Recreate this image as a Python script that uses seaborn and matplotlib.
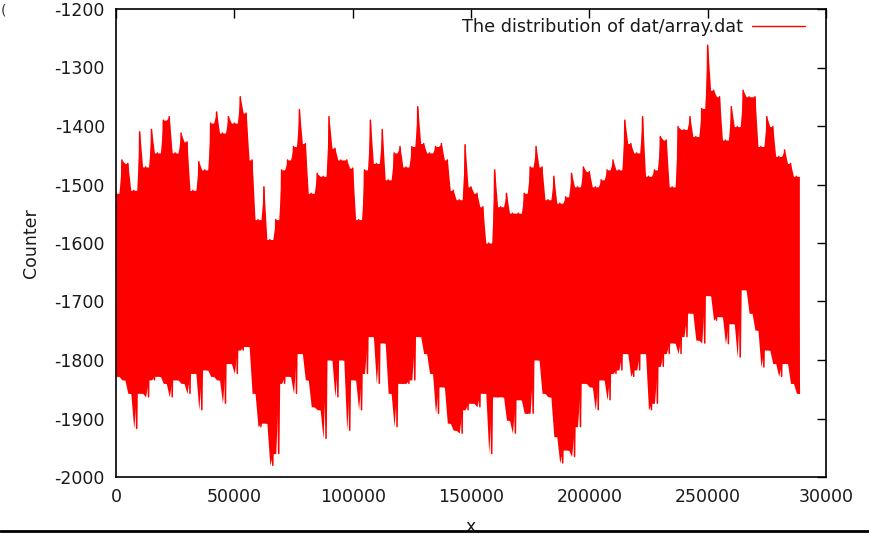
import numpy as np
import pandas as pd
import matplotlib.pyplot as plt
import seaborn as sns
from matplotlib.lines import Line2D

# upper / lower edge of the trace, every 2500 samples
hi = [-1515, -1458, -1464, -1510, -1410, -1470, -1406, -1446, -1390, -1384,
      -1446, -1412, -1427, -1510, -1461, -1475, -1395, -1376, -1412, -1384,
      -1395, -1350, -1378, -1458, -1560, -1504, -1594, -1560, -1475, -1458,
      -1435, -1372, -1430, -1515, -1481, -1486, -1384, -1438, -1458, -1458,
      -1472, -1560, -1475, -1390, -1464, -1406, -1492, -1446, -1435, -1470,
      -1435, -1367, -1430, -1446, -1435, -1430, -1458, -1510, -1526, -1432,
      -1504, -1515, -1538, -1600, -1475, -1538, -1515, -1549, -1549, -1515,
      -1470, -1435, -1470, -1526, -1486, -1532, -1521, -1481, -1504, -1470,
      -1478, -1504, -1492, -1475, -1458, -1475, -1390, -1430, -1446, -1384,
      -1486, -1475, -1418, -1424, -1504, -1401, -1406, -1384, -1418, -1370,
      -1262, -1339, -1350, -1424, -1367, -1401, -1339, -1350, -1350, -1435,
      -1384, -1401, -1452, -1441, -1464, -1486]
lo = [-1828, -1834, -1857, -1917, -1857, -1863, -1834, -1828, -1840, -1863,
      -1834, -1840, -1857, -1823, -1885, -1817, -1828, -1834, -1874, -1806,
      -1823, -1783, -1777, -1857, -1914, -1908, -1980, -1960, -1840, -1828,
      -1857, -1789, -1834, -1880, -1885, -1934, -1800, -1863, -1800, -1920,
      -1834, -1885, -1823, -1760, -1840, -1771, -1857, -1914, -1840, -1840,
      -1834, -1760, -1789, -1823, -1891, -1846, -1908, -1920, -1925, -1885,
      -1874, -1880, -1857, -1960, -1863, -1863, -1903, -1925, -1868, -1891,
      -1891, -1800, -1857, -1863, -1931, -1976, -1954, -1965, -1914, -1840,
      -1846, -1885, -1834, -1868, -1823, -1817, -1789, -1828, -1817, -1789,
      -1885, -1874, -1811, -1789, -1771, -1789, -1760, -1720, -1766, -1771,
      -1690, -1732, -1726, -1772, -1738, -1795, -1680, -1720, -1749, -1812,
      -1783, -1806, -1828, -1806, -1840, -1857]
step = 2500

xticks = [0, 50000, 100000, 150000, 200000, 250000, 300000]
xticklabels = ['0', '50000', '100000', '150000', '200000', '250000', '30000']
yticks = list(range(-2000, -1199, 100))

# each sample: top then bottom
xs = np.arange(len(hi)) * step
x = np.ravel(np.column_stack([xs, xs + step / 2]))
y = np.ravel(np.column_stack([hi, lo]))
df = pd.DataFrame({'x': x, 'Counter': y})

# the trace is so dense that the band is solid red; between two samples
# it only reaches the lower of the two tops (and higher of the two bottoms)
hi_s, lo_s = pd.Series(hi), pd.Series(lo)
mid_top = hi_s.rolling(2).min().shift(-1).fillna(hi_s)
mid_bot = lo_s.rolling(2).max().shift(-1).fillna(lo_s)
band_top = np.ravel(np.column_stack([hi, mid_top]))
band_bot = np.ravel(np.column_stack([lo, mid_bot]))

sns.set_theme(style='white')
plt.rcParams['font.family'] = ['DejaVu Sans']
plt.rcParams['axes.unicode_minus'] = False

fig = plt.figure(figsize=(8.69, 5.34), dpi=100)
ax = fig.add_axes([116 / 869, 1 - 477 / 534, 710 / 869, 468 / 534])

ax.fill_between(x, band_bot, band_top, color='#ff0000', linewidth=0)
sns.lineplot(data=df, x='x', y='Counter', sort=False, estimator=None,
             color='#ff0000', linewidth=1.1, ax=ax,
             label='The distribution of dat/array.dat')

ax.set_xlim(0, 300000)
ax.set_ylim(-2000, -1200)
ax.set_xticks(xticks)
ax.set_xticklabels(xticklabels)
ax.set_yticks(yticks)
ax.tick_params(direction='in', length=6.5, width=1, color='black',
               top=True, right=True, labelsize=12.5, labelcolor='#1a1a1a', pad=8)
for s in ax.spines.values():
    s.set_color('black')
    s.set_linewidth(1.2)

ax.set_ylabel('Counter', fontsize=12.5, color='#1a1a1a', labelpad=10)
ax.set_xlabel('x', fontsize=12.5, color='#1a1a1a')
ax.xaxis.set_label_coords(0.5, -0.087)

leg = ax.legend(loc='upper right', bbox_to_anchor=(0.970, 0.980), frameon=False,
                markerfirst=False, fontsize=12.7, handlelength=3.0,
                handletextpad=0.5, borderpad=0, borderaxespad=0)
leg.get_lines()[0].set_linewidth(1)
for t in leg.get_texts():
    t.set_color('#1a1a1a')

# bits of the screenshot frame
fig.add_artist(Line2D([0, 1], [1 - 531 / 534, 1 - 531 / 534], color='black', linewidth=2))
fig.text(0.001, 1 - 3 / 534, '(', fontsize=10, color='#333333', va='top', ha='left')

fig.savefig('out.png', dpi=100)
